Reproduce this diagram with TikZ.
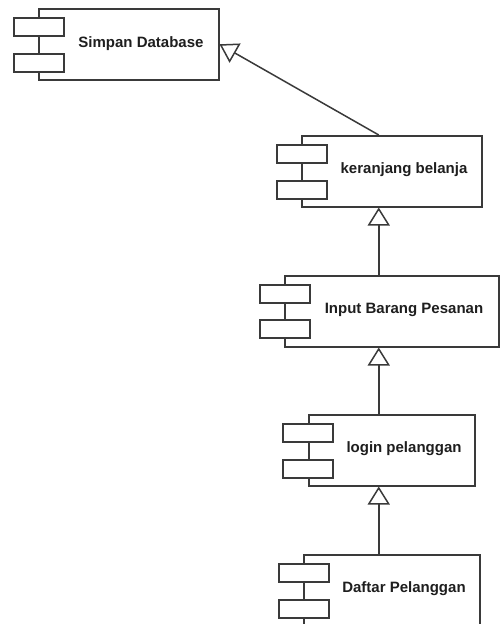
\documentclass[tikz,border=0pt]{standalone}
\usepackage{fontspec}
\setmainfont{Liberation Sans}
\usetikzlibrary{arrows.meta}
\definecolor{garis}{HTML}{3A3A3A}
\definecolor{tulisan}{HTML}{1E1E1E}
\tikzset{
	komponen/.style = {draw = garis, line width = 1.5pt, fill = white, minimum height = 71pt, inner sep = 0pt, anchor = north west},
	port/.style = {draw = garis, line width = 1.5pt, fill = white, minimum width = 50pt, minimum height = 18pt, inner sep = 0pt, anchor = north west},
	judul/.style = {text = tulisan, font = \fontsize{15}{18}\selectfont\bfseries, inner sep = 0pt},
	turunan/.style = {draw = garis, line width = 1.5pt, -{Triangle[open, length = 18pt, width = 22pt]}}
}
\begin{document}
\begin{tikzpicture}[x = 1pt, y = -1pt]
		\useasboundingbox (0, 0) rectangle (500, 624);
		\clip (0, 0) rectangle (500, 624);
		\node[komponen, minimum width = 180pt] (simpan) at (38, 8) {};
		\node[port] (simpan-a) at (13, 17) {};
		\node[port] (simpan-b) at (13, 53) {};
		\node[judul] (simpan-t) at (141, 44) {Simpan Database};
		\node[komponen, minimum width = 180pt] (keranjang) at (301, 135) {};
		\node[port] (keranjang-a) at (276, 144) {};
		\node[port] (keranjang-b) at (276, 180) {};
		\node[judul] (keranjang-t) at (404, 170) {keranjang belanja};
		\node[komponen, minimum width = 214pt] (input) at (284, 275) {};
		\node[port] (input-a) at (259, 284) {};
		\node[port] (input-b) at (259, 319) {};
		\node[judul] (input-t) at (404, 310) {Input Barang Pesanan};
		\node[komponen, minimum width = 166pt] (login) at (308, 414) {};
		\node[port] (login-a) at (282, 423) {};
		\node[port] (login-b) at (282, 459) {};
		\node[judul] (login-t) at (404, 449) {login pelanggan};
		\node[komponen, minimum width = 176pt] (daftar) at (303, 554) {};
		\node[port] (daftar-a) at (278, 563) {};
		\node[port] (daftar-b) at (278, 599) {};
		\node[judul] (daftar-t) at (404, 589) {Daftar Pelanggan};
		\draw[turunan] ([xshift = -13pt]keranjang.north) -- (simpan.east);
		\draw[turunan] ([xshift = -13pt]input.north) -- ([xshift = -13pt]keranjang.south);
		\draw[turunan] ([xshift = -13pt]login.north) -- ([xshift = -13pt]input.south);
		\draw[turunan] ([xshift = -13pt]daftar.north) -- ([xshift = -13pt]login.south);
	\end{tikzpicture}
\end{document}
